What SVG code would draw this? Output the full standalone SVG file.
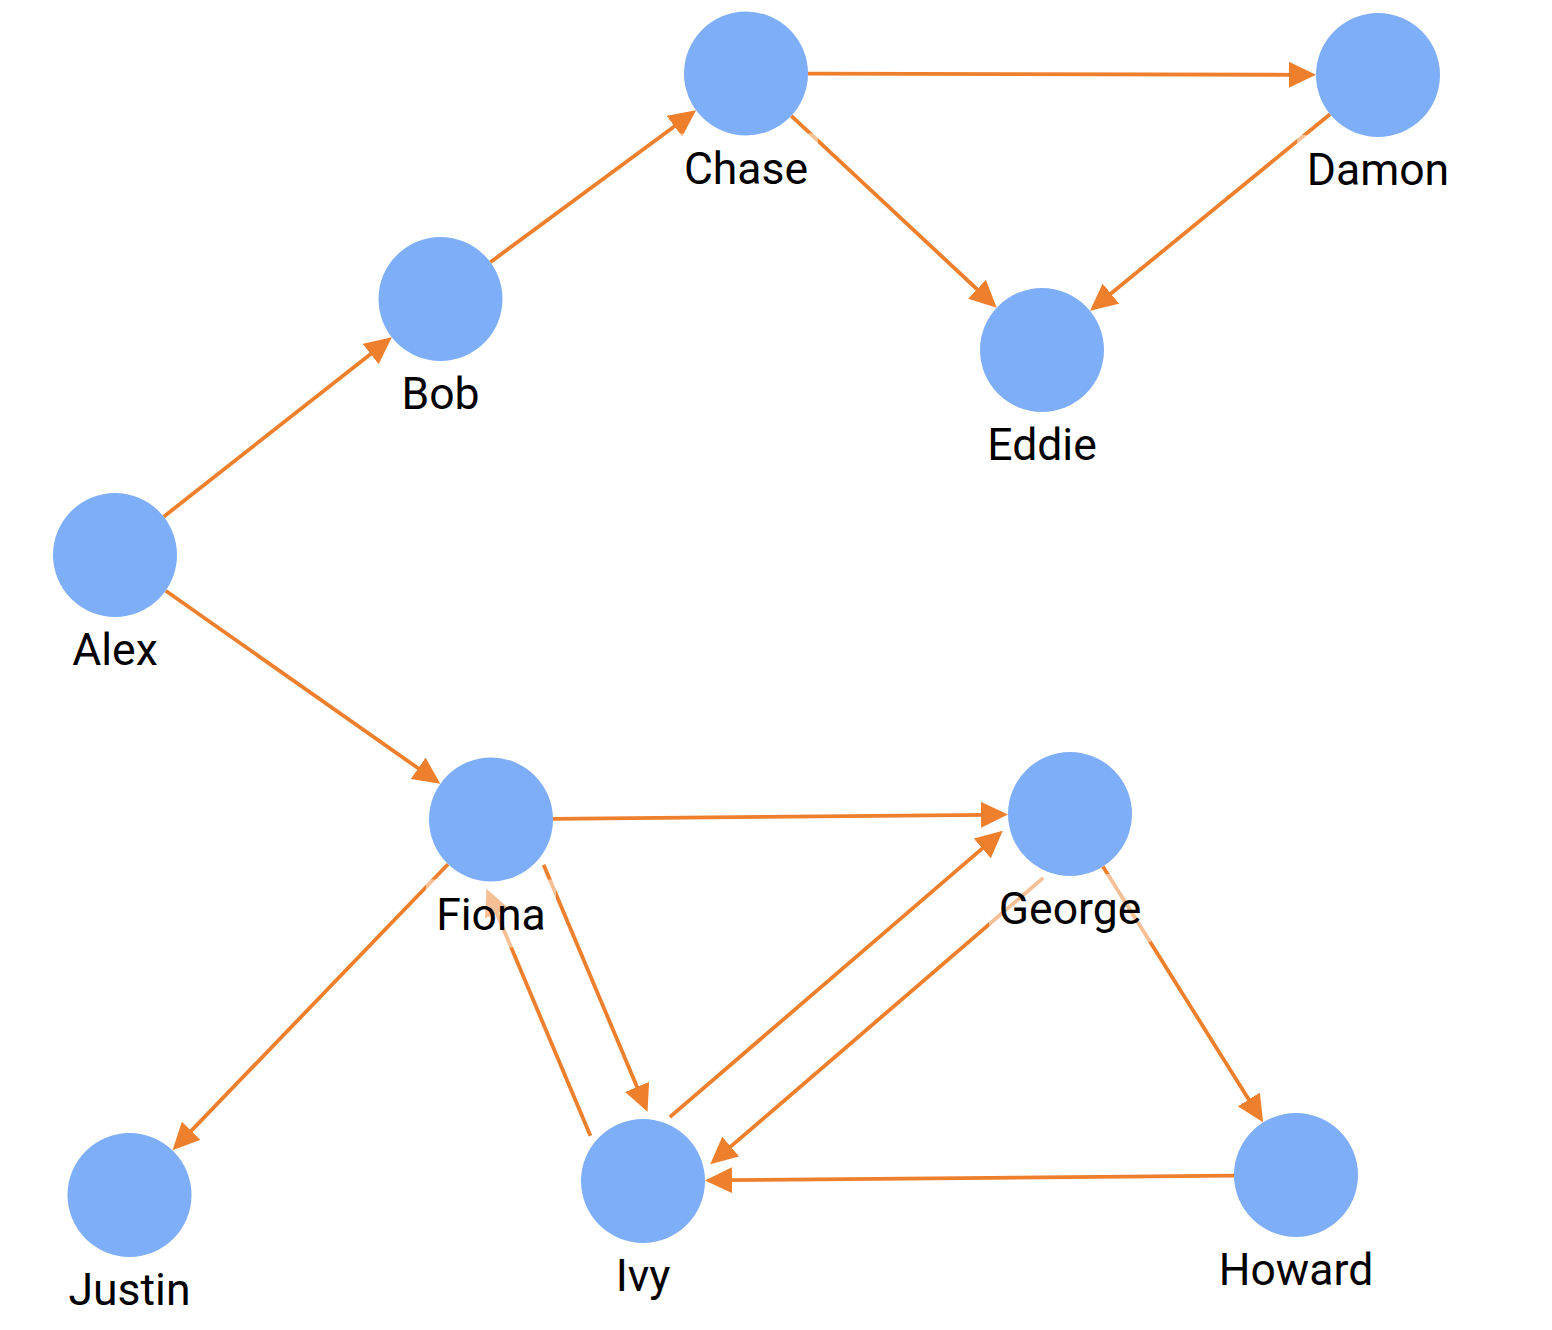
<svg xmlns="http://www.w3.org/2000/svg" width="1552" height="1330" viewBox="0 0 1552 1330">
<style>
.edge{stroke:#EE7F2D;stroke-width:3.8;fill:none;marker-end:url(#arrow)}
.node circle{fill:#7FAEF8}
.lblbg{fill:#FFFFFF;fill-opacity:0.5}
.lbl{font-family:Roboto,"Liberation Sans",sans-serif;font-size:44.5px;fill:#000000;text-anchor:middle}
</style>
<defs>
<marker id="arrow" markerUnits="userSpaceOnUse" markerWidth="28" markerHeight="28" refX="7" refY="13" orient="auto">
<path d="M0,0 L27,13 L0,26 Z" fill="#EE7F2D"/>
</marker>
</defs>
<rect width="1552" height="1330" fill="#FFFFFF"/>
<g id="edges">
<line class="edge" x1="163.7" y1="516.7" x2="376.1" y2="349.7"/>
<line class="edge" x1="165.7" y1="590.7" x2="423.9" y2="772.3"/>
<line class="edge" x1="490.4" y1="262.2" x2="680.0" y2="122.2"/>
<line class="edge" x1="808" y1="73.6" x2="1296" y2="74.8"/>
<line class="edge" x1="791.3" y1="115.8" x2="982.1" y2="294.0"/>
<line class="edge" x1="1330" y1="114.3" x2="1105.5" y2="298.0"/>
<line class="edge" x1="553" y1="818.9" x2="988" y2="814.8"/>
<line class="edge" x1="448" y1="864.2" x2="186.4" y2="1135.9"/>
<line class="edge" x1="543.6" y1="864.7" x2="639.8" y2="1093.4"/>
<line class="edge" x1="590.4" y1="1135.8" x2="494.2" y2="907.1"/>
<line class="edge" x1="669.8" y1="1117.1" x2="987.6" y2="843.9"/>
<line class="edge" x1="1043.2" y1="877.9" x2="725.4" y2="1151.1"/>
<line class="edge" x1="1102.9" y1="866.6" x2="1252.5" y2="1105.4"/>
<line class="edge" x1="1234" y1="1175.6" x2="725" y2="1180.2"/>
</g>
<g id="node-alex" class="node">
<rect class="lblbg" x="62" y="615" width="106" height="68"/>
<circle cx="115" cy="555" r="62"/>
<text class="lbl" x="115" y="665">Alex</text>
</g>
<g id="node-bob" class="node">
<rect class="lblbg" x="391.5" y="359" width="98" height="68"/>
<circle cx="440.5" cy="299" r="62"/>
<text class="lbl" x="440.5" y="409">Bob</text>
</g>
<g id="node-chase" class="node">
<rect class="lblbg" x="674" y="133.5" width="144" height="68"/>
<circle cx="746" cy="73.5" r="62"/>
<text class="lbl" x="746" y="183.5">Chase</text>
</g>
<g id="node-damon" class="node">
<rect class="lblbg" x="1297" y="135" width="162" height="68"/>
<circle cx="1378" cy="75" r="62"/>
<text class="lbl" x="1378" y="185">Damon</text>
</g>
<g id="node-eddie" class="node">
<rect class="lblbg" x="977" y="410" width="130" height="68"/>
<circle cx="1042" cy="350" r="62"/>
<text class="lbl" x="1042" y="460">Eddie</text>
</g>
<g id="node-fiona" class="node">
<rect class="lblbg" x="426" y="879.5" width="130" height="68"/>
<circle cx="491" cy="819.5" r="62"/>
<text class="lbl" x="491" y="929.5">Fiona</text>
</g>
<g id="node-george" class="node">
<rect class="lblbg" x="989" y="874" width="162" height="68"/>
<circle cx="1070" cy="814" r="62"/>
<text class="lbl" x="1070" y="924">George</text>
</g>
<g id="node-howard" class="node">
<rect class="lblbg" x="1209" y="1235" width="174" height="68"/>
<circle cx="1296" cy="1175" r="62"/>
<text class="lbl" x="1296" y="1285">Howard</text>
</g>
<g id="node-ivy" class="node">
<rect class="lblbg" x="605" y="1241" width="76" height="68"/>
<circle cx="643" cy="1181" r="62"/>
<text class="lbl" x="643" y="1291">Ivy</text>
</g>
<g id="node-justin" class="node">
<rect class="lblbg" x="58.5" y="1255" width="142" height="68"/>
<circle cx="129.5" cy="1195" r="62"/>
<text class="lbl" x="129.5" y="1305">Justin</text>
</g>
</svg>
